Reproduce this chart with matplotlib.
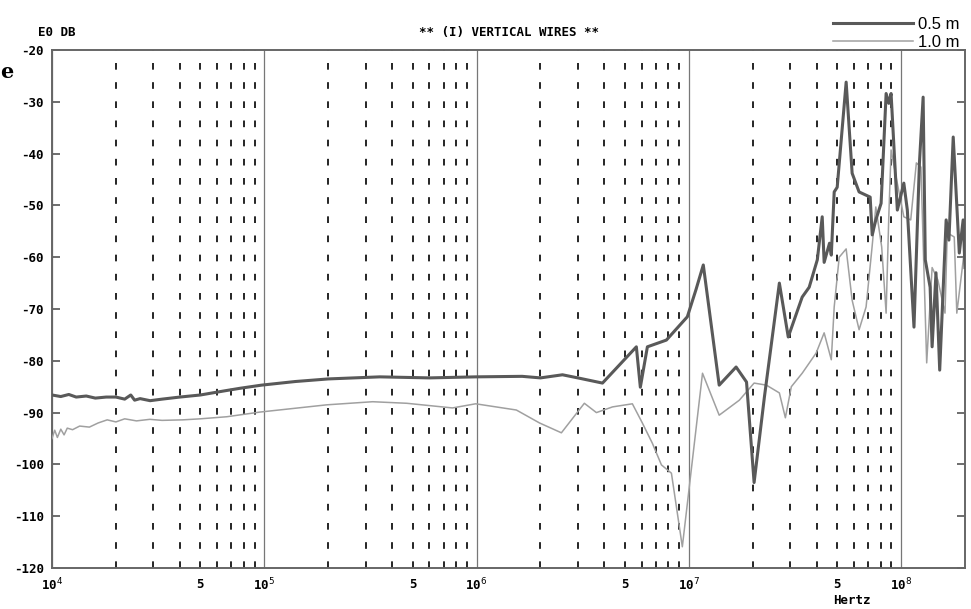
import matplotlib
matplotlib.use("Agg")
from matplotlib import pyplot as plt
from matplotlib.ticker import FixedLocator, NullFormatter

# values (Hz, dB)
freq_05 = [1.0e4, 1.1e4, 1.2e4, 1.3e4, 1.45e4, 1.6e4, 1.8e4, 2.0e4, 2.2e4, 2.35e4, 2.45e4,
           2.6e4, 2.9e4, 3.3e4, 4.0e4, 5.0e4, 6.5e4, 7.7e4, 9.7e4, 1.4e5, 2.0e5, 3.5e5,
           6.0e5, 9.9e5, 1.64e6, 2.0e6, 2.54e6, 3.0e6, 3.92e6, 5.66e6, 5.91e6, 6.38e6,
           7.84e6, 9.84e6, 1.08e7, 1.17e7, 1.39e7, 1.67e7, 1.87e7, 2.03e7, 2.27e7, 2.67e7,
           2.94e7, 3.42e7, 3.69e7, 4.03e7, 4.25e7, 4.34e7, 4.6e7, 4.69e7, 4.84e7, 5.0e7,
           5.51e7, 5.88e7, 6.34e7, 7.15e7, 7.31e7, 7.6e7, 8.05e7, 8.5e7, 8.75e7, 8.97e7,
           9.6e7, 1.03e8, 1.07e8, 1.15e8, 1.22e8, 1.27e8, 1.3e8, 1.37e8, 1.40e8, 1.46e8,
           1.52e8, 1.63e8, 1.68e8, 1.76e8, 1.88e8, 1.96e8, 2.0e8]
db_05 = [-86.6, -86.9, -86.5, -87.0, -86.8, -87.2, -87.0, -87.0, -87.4, -86.6, -87.6,
         -87.3, -87.7, -87.4, -87.0, -86.6, -85.8, -85.3, -84.7, -84.0, -83.5, -83.1,
         -83.3, -83.1, -83.0, -83.3, -82.7, -83.3, -84.3, -77.3, -85.1, -77.3,
         -76.0, -71.5, -66.3, -61.5, -84.7, -81.2, -84.1, -103.5, -87.0, -65.0,
         -75.4, -67.7, -65.8, -60.5, -52.2, -61.0, -57.3, -59.6, -47.4, -46.5,
         -26.2, -43.8, -47.4, -48.4, -55.7, -52.8, -49.6, -28.4, -30.3, -28.4,
         -50.9, -45.7, -50.9, -73.5, -41.8, -29.1, -60.5, -65.8, -77.3, -63.0,
         -81.8, -52.8, -56.7, -36.8, -59.2, -52.8, -62.0]

freq_10 = [1.0e4, 1.03e4, 1.06e4, 1.1e4, 1.14e4, 1.18e4, 1.25e4, 1.35e4, 1.5e4, 1.65e4,
           1.82e4, 2.0e4, 2.2e4, 2.5e4, 2.89e4, 3.3e4, 4.13e4, 5.0e4, 6.66e4, 9.53e4,
           1.97e5, 3.24e5, 4.69e5, 7.7e5, 9.9e5, 1.54e6, 1.98e6, 2.51e6, 3.22e6, 3.67e6,
           4.37e6, 5.42e6, 6.04e6, 6.73e6, 7.43e6, 8.28e6, 9.32e6, 1.16e7, 1.39e7, 1.73e7,
           2.03e7, 2.32e7, 2.67e7, 2.85e7, 3.04e7, 3.42e7, 3.98e7, 4.34e7, 4.69e7, 4.84e7,
           5.11e7, 5.51e7, 5.88e7, 6.34e7, 6.84e7, 7.3e7, 7.6e7, 8.1e7, 8.5e7, 8.75e7,
           8.97e7, 9.47e7, 1.03e8, 1.11e8, 1.18e8, 1.24e8, 1.28e8, 1.32e8, 1.40e8, 1.49e8,
           1.61e8, 1.65e8, 1.78e8, 1.83e8, 1.98e8]
db_10 = [-95.0, -93.4, -94.8, -93.2, -94.3, -93.0, -93.3, -92.6, -92.8, -92.0,
         -91.4, -91.8, -91.2, -91.6, -91.3, -91.5, -91.4, -91.2, -90.8, -89.9,
         -88.5, -87.9, -88.2, -89.1, -88.3, -89.5, -92.0, -93.9, -88.2, -90.0,
         -88.9, -88.3, -92.0, -95.9, -100.1, -101.7, -115.9, -82.4, -90.5, -87.6,
         -84.3, -84.7, -86.2, -91.0, -85.0, -82.4, -78.5, -74.6, -79.8, -69.6,
         -60.0, -58.4, -68.3, -74.0, -69.6, -58.0, -50.3, -58.0, -70.8, -52.2,
         -39.3, -44.5, -52.2, -52.8, -41.8, -42.6, -61.9, -80.4, -62.0, -64.4,
         -70.8, -55.3, -56.1, -70.8, -59.2]

decades = [1e4, 1e5, 1e6, 1e7, 1e8]
decade_labels = ["10$^{4}$", "10$^{5}$", "10$^{6}$", "10$^{7}$", "10$^{8}$"]
y_ticks = list(range(-120, -19, 10))

plot_font = {'family': 'DejaVu Sans Mono', 'weight': 'bold', 'size': 9}


def main():
    fig = plt.figure(figsize=(9.71, 6.09), dpi=100)
    ax = fig.add_axes([52 / 971, 1 - 568 / 609, (965 - 52) / 971, (568 - 50) / 609])

    ax.set_xscale('log')
    ax.set_xlim(1e4, 2e8)
    ax.set_ylim(-120, -20)

    # grid: solid at decades, dashed at 2..9
    minors = [m * d for d in decades[:-1] for m in range(2, 10)]
    minors = [f for f in minors if f < 2e8]
    ax.xaxis.set_major_locator(FixedLocator(decades))
    ax.xaxis.set_minor_locator(FixedLocator(minors))
    ax.set_xticklabels(decade_labels, fontdict=plot_font)
    ax.xaxis.set_minor_formatter(NullFormatter())
    for d in decades[:-1]:
        ax.text(5 * d, -122.0, '5', ha='center', va='top', fontdict=plot_font)
    ax.grid(which='major', axis='x', color='#777777', linewidth=0.9, linestyle='-')
    ax.grid(which='minor', axis='x', color='black', linewidth=1.2, linestyle=(0, (4, 7.5)))
    ax.tick_params(axis='x', which='both', length=0, pad=6)

    ax.set_yticks(y_ticks)
    ax.set_yticklabels([str(v) for v in y_ticks], fontdict=plot_font)
    ax.tick_params(axis='y', direction='in', length=6, width=1.2, color='#555555',
                   left=True, right=True, pad=6)

    for s in ax.spines.values():
        s.set_color('#666666')
        s.set_linewidth(1.4)

    ax.plot(freq_05, db_05, color='#595959', linewidth=2.2, label='0.5 m', zorder=4)
    ax.plot(freq_10, db_10, color='#a0a0a0', linewidth=1.1, label='1.0 m', zorder=3)

    ax.legend(loc='lower right', bbox_to_anchor=(1.003, 0.984), frameon=False,
              handlelength=4.8, handletextpad=0.3, labelspacing=0.2,
              borderpad=0.0, prop={'family': 'Liberation Sans', 'size': 12})

    ax.set_title('** (I) VERTICAL WIRES **', fontdict=plot_font, pad=10)
    fig.text(38 / 971, 1 - 33 / 609, 'E0 DB', fontdict=plot_font, va='center')
    fig.text(852 / 971, 1 - 601 / 609, 'Hertz', fontdict=plot_font, ha='center', va='center')
    fig.text(0.0, 1 - 72 / 609, 'e', family='DejaVu Serif', weight='bold', size=15, va='center')

    fig.savefig('out.png', dpi=100)


if __name__ == '__main__':
    main()
